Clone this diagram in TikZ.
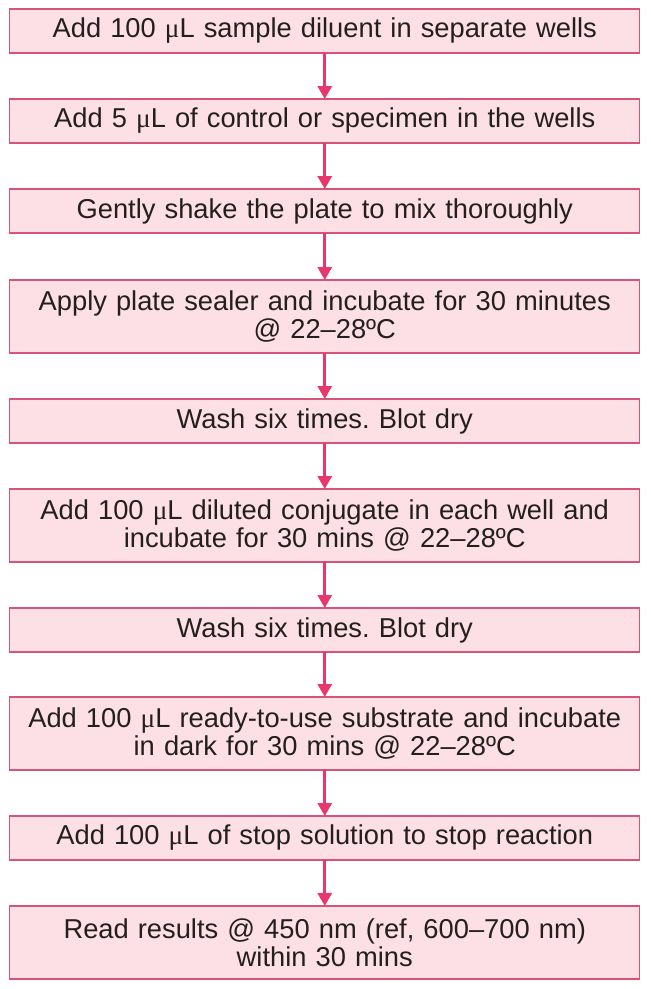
\documentclass[tikz,border=0pt]{standalone}
\usepackage{fontspec}
\setmainfont{Liberation Sans}
\newfontfamily\greekfont{Liberation Serif}
\usetikzlibrary{positioning,arrows.meta}
\definecolor{boxfill}{RGB}{253,224,229}
\definecolor{boxline}{RGB}{214,84,122}
\definecolor{arrowred}{RGB}{233,54,108}
\definecolor{inktext}{RGB}{35,31,32}
\frenchspacing
\tikzstyle{stepbox}=[draw=boxline,fill=boxfill,line width=1.2pt,outer sep=0pt,minimum width=630pt,text width=624pt,align=center,inner sep=0pt,font=\fontsize{27.3}{27.5}\selectfont,text=inktext]
\tikzstyle{onerow}=[stepbox,minimum height=44pt]
\tikzstyle{tworow}=[stepbox,minimum height=73pt]
\tikzstyle{flow}=[draw=arrowred,line width=3pt,-{Triangle[width=14pt,length=13pt]}]
\def\ul{{\greekfont μ}L}

\begin{document}
\begin{tikzpicture}
    \useasboundingbox (0,0) rectangle (651pt,-989pt);
    \node[onerow,anchor=north] (diluent) at (324.75pt,-9pt) {Add 100 \ul{} sample diluent in separate wells};
    \node[onerow,below=46pt of diluent] (specimen) {Add 5 \ul{} of control or specimen in the wells};
    \node[onerow,below=46pt of specimen] (shake) {Gently shake the plate to mix thoroughly};
    \node[tworow,below=47pt of shake] (sealer) {Apply plate sealer and incubate for 30 minutes\\@ 22–28ºC};
    \node[onerow,below=46pt of sealer] (washa) {Wash six times. Blot dry};
    \node[tworow,below=46pt of washa] (conjugate) {Add 100 \ul{} diluted conjugate in each well and\\incubate for 30 mins @ 22–28ºC};
    \node[onerow,below=46pt of conjugate] (washb) {Wash six times. Blot dry};
    \node[tworow,below=45pt of washb] (substrate) {Add 100 \ul{} ready-to-use substrate and incubate\\in dark for 30 mins @ 22–28ºC};
    \node[onerow,below=46pt of substrate] (stop) {Add 100 \ul{} of stop solution to stop reaction};
    \node[tworow,below=46pt of stop] (read) {Read results @ 450 nm (ref, 600–700 nm)\\within 30 mins};
    % arrows between steps
    \foreach \a/\b in {diluent/specimen,specimen/shake,shake/sealer,sealer/washa,washa/conjugate,conjugate/washb,washb/substrate,substrate/stop,stop/read}
      \draw[flow] (\a.south) -- (\b.north);
  \end{tikzpicture}
\end{document}
